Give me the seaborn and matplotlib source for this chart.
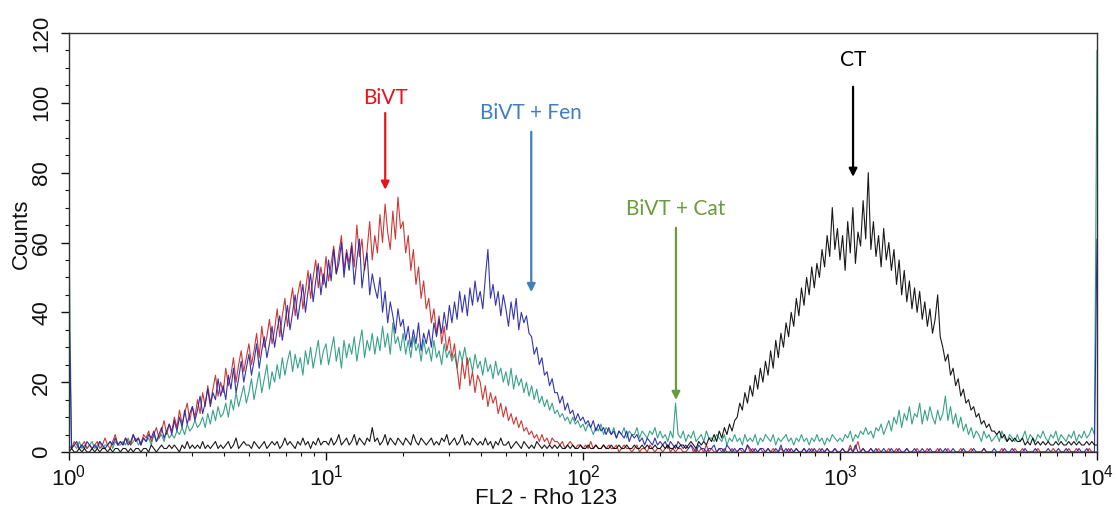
import numpy as np
import matplotlib
matplotlib.use("Agg")
import matplotlib.pyplot as plt
import seaborn as sns
from matplotlib.ticker import LogLocator, MultipleLocator, NullFormatter

# ---------------- data ----------------
# channel grid: 4 log decades (10^0 .. 10^4), 100 channels per decade
n_channels = 401
decades = 4
channels = 10 ** (np.arange(n_channels) * decades / (n_channels - 1))

series_names = ["BiVT + Cat", "BiVT", "BiVT + Fen", "CT"]

counts_cat = [
    62, 1, 2, 1, 3, 1, 2, 1, 2, 3,
    1, 2, 3, 1, 2, 2, 3, 1, 3, 2,
    2, 3, 2, 4, 2, 3, 4, 2, 3, 4,
    3, 4, 2, 5, 3, 4, 5, 3, 6, 4,
    5, 4, 6, 5, 7, 5, 8, 6, 7, 9,
    7, 8, 10, 7, 11, 8, 12, 9, 13, 10,
    11, 14, 10, 15, 12, 17, 13, 16, 19, 14,
    17, 21, 15, 19, 23, 17, 21, 25, 18, 23,
    20, 25, 21, 27, 22, 26, 29, 23, 28, 24,
    27, 22, 29, 25, 30, 24, 28, 32, 25, 29,
    31, 25, 29, 33, 26, 30, 24, 32, 27, 31,
    28, 33, 26, 31, 35, 27, 32, 29, 34, 28,
    33, 29, 36, 30, 34, 28, 37, 31, 33, 29,
    34, 28, 32, 27, 33, 29, 31, 26, 32, 28,
    30, 26, 32, 27, 29, 25, 31, 27, 29, 26,
    28, 24, 29, 26, 30, 25, 27, 23, 28, 24,
    26, 22, 27, 23, 25, 21, 26, 22, 24, 20,
    23, 19, 24, 18, 22, 19, 21, 17, 20, 16,
    19, 15, 18, 14, 16, 13, 15, 12, 14, 11,
    12, 10, 11, 9, 10, 8, 10, 8, 9, 7,
    8, 6, 8, 7, 5, 7, 6, 8, 5, 7,
    6, 5, 7, 4, 6, 5, 7, 4, 6, 5,
    5, 7, 4, 6, 5, 4, 6, 5, 7, 4,
    6, 4, 5, 3, 6, 4, 14, 5, 4, 6,
    3, 5, 4, 6, 3, 4, 5, 3, 6, 4,
    4, 3, 5, 4, 3, 5, 2, 4, 3, 5,
    3, 4, 2, 5, 3, 4, 3, 5, 2, 4,
    3, 5, 4, 3, 5, 2, 4, 3, 4, 5,
    3, 4, 2, 4, 3, 5, 3, 4, 2, 4,
    3, 5, 3, 4, 2, 4, 3, 5, 4, 3,
    4, 3, 5, 4, 6, 3, 5, 4, 6, 5,
    7, 5, 6, 4, 7, 6, 8, 5, 7, 9,
    6, 10, 8, 12, 7, 11, 9, 13, 8, 11,
    10, 14, 8, 12, 9, 13, 10, 8, 12, 9,
    11, 16, 9, 13, 8, 11, 7, 10, 6, 8,
    5, 7, 4, 6, 5, 3, 6, 4, 5, 3,
    4, 5, 3, 6, 4, 3, 5, 4, 3, 5,
    3, 4, 6, 3, 5, 4, 3, 5, 4, 6,
    4, 3, 5, 4, 6, 3, 5, 4, 3, 5,
    4, 6, 3, 5, 4, 6, 4, 5, 7, 5,
    115,
]

counts_bivt = [
    2, 1, 3, 2, 1, 2, 3, 1, 2, 1,
    2, 3, 1, 2, 4, 2, 1, 3, 5, 2,
    3, 2, 4, 3, 2, 5, 3, 4, 2, 5,
    4, 6, 3, 5, 7, 4, 6, 9, 5, 8,
    6, 10, 7, 12, 8, 11, 14, 9, 13, 10,
    15, 11, 17, 13, 19, 14, 18, 22, 16, 20,
    17, 24, 19, 22, 27, 20, 25, 29, 23, 27,
    31, 25, 29, 34, 27, 36, 30, 33, 38, 31,
    35, 41, 33, 39, 44, 36, 42, 47, 39, 45,
    49, 41, 46, 52, 44, 50, 55, 47, 53, 48,
    56, 49, 54, 59, 51, 57, 62, 52, 58, 54,
    60, 53, 65, 56, 61, 52, 58, 66, 55, 62,
    57, 68, 60, 71, 63, 58, 69, 61, 73, 64,
    66, 57, 62, 52, 58, 48, 53, 44, 49, 41,
    44, 37, 41, 34, 39, 31, 36, 29, 33, 27,
    31, 24, 18, 26, 21, 27, 19, 23, 17, 22,
    20, 15, 19, 13, 17, 14, 16, 11, 14, 10,
    13, 9, 11, 8, 10, 7, 9, 6, 7, 5,
    6, 4, 5, 3, 5, 3, 4, 2, 4, 3,
    3, 2, 3, 1, 2, 3, 2, 1, 2, 2,
    1, 2, 1, 3, 1, 2, 1, 1, 2, 1,
    2, 1, 1, 2, 0, 1, 2, 1, 1, 0,
    1, 2, 0, 1, 1, 0, 2, 1, 0, 1,
    1, 0, 1, 2, 0, 1, 0, 1, 1, 0,
    0, 1, 2, 0, 1, 0, 1, 0, 2, 0,
    1, 0, 0, 1, 0, 1, 0, 0, 1, 0,
    0, 1, 0, 0, 2, 0, 1, 0, 0, 1,
    0, 0, 1, 0, 1, 0, 0, 1, 0, 0,
    1, 0, 0, 1, 0, 0, 1, 0, 0, 1,
    0, 0, 1, 0, 0, 1, 0, 0, 1, 0,
    0, 1, 0, 0, 2, 0, 1, 3, 0, 1,
    0, 0, 1, 0, 0, 1, 0, 0, 0, 1,
    0, 0, 1, 0, 0, 0, 1, 0, 0, 0,
    1, 0, 0, 0, 1, 0, 0, 0, 1, 0,
    0, 0, 1, 0, 0, 0, 0, 1, 0, 0,
    0, 1, 0, 0, 0, 0, 1, 0, 0, 0,
    0, 0, 0, 1, 0, 0, 0, 0, 1, 0,
    0, 1, 0, 0, 0, 0, 0, 1, 0, 0,
    0, 0, 0, 1, 0, 0, 0, 0, 0, 1,
    0, 0, 1, 0, 0, 0, 0, 1, 0, 0,
    0,
]

counts_fen = [
    42, 1, 2, 3, 1, 2, 1, 3, 2, 1,
    2, 1, 3, 2, 1, 2, 3, 2, 4, 2,
    3, 2, 4, 2, 3, 5, 3, 4, 2, 4,
    3, 5, 4, 6, 3, 5, 7, 4, 6, 8,
    5, 9, 6, 10, 7, 12, 8, 11, 13, 9,
    12, 16, 11, 14, 18, 13, 17, 15, 21, 16,
    19, 15, 22, 18, 24, 17, 21, 26, 20, 24,
    28, 22, 26, 31, 24, 29, 33, 27, 31, 36,
    30, 35, 39, 32, 37, 42, 35, 40, 45, 38,
    43, 48, 40, 46, 51, 43, 49, 54, 45, 51,
    47, 55, 49, 58, 51, 54, 60, 50, 57, 52,
    59, 48, 55, 61, 47, 53, 57, 45, 51, 47,
    44, 50, 40, 46, 37, 43, 39, 34, 41, 36,
    38, 32, 36, 30, 35, 31, 37, 29, 34, 31,
    35, 30, 37, 33, 38, 34, 40, 35, 42, 37,
    43, 38, 46, 40, 45, 39, 47, 42, 49, 43,
    46, 41, 50, 58, 44, 48, 42, 46, 39, 45,
    41, 36, 43, 38, 44, 35, 40, 37, 39, 34,
    33, 28, 30, 25, 27, 22, 23, 19, 21, 17,
    17, 14, 16, 12, 14, 11, 12, 9, 11, 9,
    10, 8, 9, 7, 9, 6, 8, 6, 7, 5,
    7, 5, 6, 4, 6, 5, 4, 6, 3, 5,
    4, 5, 3, 4, 2, 4, 3, 2, 4, 2,
    3, 2, 3, 1, 3, 2, 1, 3, 2, 1,
    2, 1, 2, 1, 0, 2, 1, 1, 0, 1,
    1, 2, 0, 1, 1, 0, 2, 1, 0, 1,
    0, 1, 1, 0, 2, 1, 0, 1, 0, 1,
    1, 0, 1, 0, 0, 1, 0, 2, 0, 1,
    0, 1, 0, 1, 0, 0, 1, 0, 1, 0,
    1, 0, 0, 1, 0, 1, 0, 0, 1, 0,
    0, 1, 0, 0, 1, 0, 2, 0, 0, 1,
    0, 0, 1, 0, 1, 0, 0, 1, 0, 0,
    1, 0, 0, 1, 0, 0, 1, 0, 0, 1,
    0, 0, 1, 0, 0, 1, 0, 0, 0, 1,
    0, 1, 0, 0, 1, 0, 0, 0, 1, 0,
    0, 0, 1, 0, 0, 0, 1, 0, 0, 0,
    1, 0, 0, 0, 1, 0, 0, 1, 0, 0,
    0, 0, 1, 0, 0, 0, 1, 0, 0, 0,
    0, 1, 0, 0, 0, 1, 0, 0, 1, 0,
    0, 0, 0, 1, 0, 0, 1, 0, 0, 0,
    61,
]

counts_ct = [
    0, 1, 0, 0, 1, 0, 1, 0, 0, 1,
    0, 1, 0, 1, 1, 0, 1, 0, 1, 1,
    0, 1, 1, 0, 1, 0, 1, 1, 0, 1,
    1, 0, 2, 1, 0, 1, 2, 1, 1, 2,
    1, 2, 1, 0, 2, 1, 3, 1, 2, 1,
    2, 1, 3, 1, 2, 1, 2, 3, 1, 2,
    1, 2, 3, 1, 2, 4, 1, 2, 3, 2,
    2, 1, 3, 2, 1, 2, 3, 1, 2, 3,
    2, 3, 1, 2, 4, 2, 3, 2, 1, 3,
    2, 4, 2, 3, 1, 3, 2, 4, 2, 3,
    3, 2, 4, 2, 3, 5, 2, 3, 4, 2,
    3, 5, 2, 4, 3, 2, 4, 3, 7, 3,
    4, 2, 3, 5, 2, 4, 3, 2, 4, 3,
    2, 4, 3, 2, 5, 3, 2, 4, 3, 2,
    3, 4, 2, 3, 2, 4, 3, 5, 2, 3,
    4, 2, 3, 5, 2, 3, 2, 4, 3, 2,
    3, 2, 4, 2, 3, 1, 3, 2, 4, 2,
    2, 3, 1, 2, 3, 2, 1, 3, 2, 1,
    2, 1, 3, 2, 1, 2, 1, 2, 1, 2,
    1, 2, 1, 1, 2, 1, 2, 1, 1, 2,
    1, 1, 2, 1, 1, 2, 1, 1, 2, 1,
    1, 2, 1, 1, 2, 1, 1, 2, 1, 1,
    2, 1, 1, 2, 1, 2, 1, 1, 2, 1,
    1, 2, 1, 2, 1, 1, 2, 1, 2, 2,
    1, 2, 3, 2, 1, 3, 2, 3, 2, 4,
    3, 5, 3, 6, 4, 7, 5, 8, 6, 9,
    10, 14, 12, 17, 14, 19, 16, 22, 18, 24,
    20, 26, 22, 29, 24, 32, 27, 34, 30, 37,
    33, 40, 36, 44, 39, 47, 42, 50, 45, 53,
    47, 54, 50, 58, 53, 62, 56, 70, 58, 64,
    55, 62, 52, 66, 57, 70, 54, 63, 59, 72,
    61, 80, 58, 66, 56, 62, 53, 64, 55, 60,
    52, 58, 48, 55, 45, 52, 43, 49, 41, 47,
    40, 46, 38, 43, 36, 41, 34, 38, 45, 33,
    30, 26, 28, 22, 24, 19, 21, 16, 18, 14,
    15, 12, 13, 10, 11, 8, 9, 7, 8, 6,
    6, 5, 6, 4, 5, 3, 4, 3, 4, 3,
    3, 4, 2, 3, 2, 4, 2, 3, 2, 3,
    2, 3, 2, 2, 3, 2, 3, 2, 2, 3,
    2, 3, 2, 3, 2, 2, 3, 2, 3, 2,
    2,
]

series_values = [counts_cat, counts_bivt, counts_fen, counts_ct]
line_colors = ["#23987a", "#c8231f", "#1f1fa6", "#000000"]

# ---------------- figure ----------------
sns.set_theme(style="ticks")
plt.rcParams["font.family"] = ["Liberation Sans", "DejaVu Sans"]
plt.rcParams["mathtext.default"] = "regular"

W, H = 1117, 513
fig = plt.figure(figsize=(W / 100, H / 100), dpi=100)
ax = fig.add_axes([69 / W, 1 - 452 / H, (1097 - 69) / W, (452 - 33) / H])

for name, vals, col in zip(series_names, series_values, line_colors):
    sns.lineplot(x=channels, y=np.asarray(vals, dtype=float), ax=ax, color=col,
                 lw=0.8, alpha=0.9, estimator=None, sort=False, label=name,
                 legend=False)

ax.set_xscale("log")
ax.set_xlim(1, 1e4)
ax.set_ylim(0, 120)
ax.xaxis.set_major_locator(LogLocator(base=10, numticks=10))
ax.xaxis.set_minor_locator(LogLocator(base=10, subs=np.arange(2, 10), numticks=50))
ax.xaxis.set_minor_formatter(NullFormatter())
ax.yaxis.set_major_locator(MultipleLocator(20))
ax.yaxis.set_minor_locator(MultipleLocator(5))

for sp in ax.spines.values():
    sp.set_visible(True)
    sp.set_color("#333333")
    sp.set_linewidth(1.0)

ax.tick_params(axis="x", which="major", length=6, width=1, labelsize=16, pad=3,
               colors="#111111")
ax.tick_params(axis="x", which="minor", length=3, width=0.8, colors="#111111")
ax.tick_params(axis="y", which="major", length=6, width=1, labelsize=16, pad=6,
               colors="#111111")
ax.tick_params(axis="y", which="minor", length=3, width=0.8, colors="#111111")
for lab in ax.get_yticklabels():
    lab.set_rotation(90)
    lab.set_va("center")

ax.set_xlabel("FL2 - Rho 123", fontsize=16, color="#111111")
ax.xaxis.set_label_coords(0.464, -0.086)
ax.set_ylabel("Counts", fontsize=16, color="#111111")
ax.yaxis.set_label_coords(-0.036, 0.52)

# ---------------- annotations ----------------
annotations = [
    ("BiVT", 17.0, 101.4, 97.1, 75.1, "#e8141c"),
    ("BiVT + Fen", 62.9, 97.1, 91.7, 45.8, "#3f7fc1"),
    ("BiVT + Cat", 230.0, 69.6, 64.2, 14.9, "#6b9b3f"),
    ("CT", 1124.0, 112.3, 104.6, 78.8, "#000000"),
]
for text, xv, ty, y0, y1, col in annotations:
    ax.text(xv, ty, text, ha="center", va="center", color=col, fontsize=15,
            family=["Lato", "DejaVu Sans"])
    ax.annotate("", xy=(xv, y1), xytext=(xv, y0),
                arrowprops=dict(arrowstyle="-|>", color=col, lw=1.6,
                                mutation_scale=12, shrinkA=0, shrinkB=0))

fig.savefig("out.png", dpi=100)
